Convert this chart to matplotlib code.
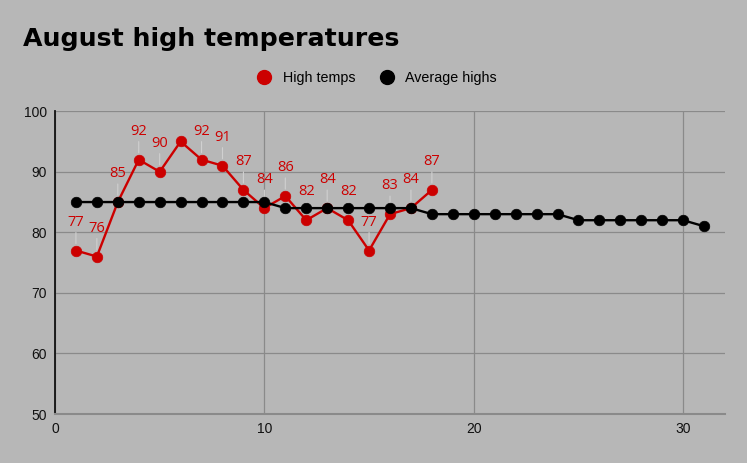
import matplotlib
matplotlib.use("Agg")
import matplotlib.pyplot as plt
from matplotlib.lines import Line2D

# data
days_high = list(range(1, 19))
high_temps = [77, 76, 85, 92, 90, 95, 92, 91, 87, 84, 86, 82, 84, 82, 77, 83, 84, 87]
days_avg = list(range(1, 32))
avg_highs = [85] * 10 + [84] * 7 + [83] * 7 + [82] * 6 + [81]
unlabeled_days = [6]

BG = "#b7b7b7"
RED = "#cc0000"
GRID = "#8a8a8a"

plt.rcParams["font.family"] = ["Liberation Sans", "DejaVu Sans"]

fig = plt.figure(figsize=(7.47, 4.63), dpi=100, facecolor=BG)
ax = fig.add_axes([0.0736, 0.1058, 0.897, 0.654])
ax.set_facecolor(BG)

# average highs sit on top of the red series, like in the original
ax.plot(days_high, high_temps, color=RED, lw=1.7, marker="o", ms=7.6,
        mew=0.5, zorder=3)
ax.plot(days_avg, avg_highs, color="black", lw=1.7, marker="o", ms=7.6,
        mew=0.5, zorder=4)

# labels and their leader lines go under the markers
for d, v in zip(days_high, high_temps):
    if d in unlabeled_days:
        continue
    ax.annotate(str(v), xy=(d, v), xytext=(0, 15), textcoords="offset points",
                ha="center", va="bottom", color=RED, fontsize=10.5,
                family="Open Sans",
                arrowprops=dict(arrowstyle="-", color="#d0d0d0", lw=0.8,
                                shrinkA=0, shrinkB=5), zorder=2)

ax.set_xlim(0, 32)
ax.set_ylim(50, 100)
ax.set_xticks([0, 10, 20, 30])
ax.set_yticks([50, 60, 70, 80, 90, 100])
ax.grid(True, color=GRID, lw=0.9)
ax.set_axisbelow(True)
ax.tick_params(length=0, labelsize=10, colors="#111111", pad=6)
for s in ["top", "right"]:
    ax.spines[s].set_visible(False)
ax.spines["left"].set_color("#111111")
ax.spines["left"].set_linewidth(1.3)
ax.spines["bottom"].set_color(GRID)
ax.spines["bottom"].set_linewidth(1.5)

fig.text(0.031, 0.915, "August high temperatures", fontsize=18.2,
         fontweight="heavy", family="DejaVu Sans", va="center", ha="left")

handles = [
    Line2D([], [], color=RED, marker="o", ls="", ms=10),
    Line2D([], [], color="black", marker="o", ls="", ms=10),
]
fig.legend(handles, ["High temps", "Average highs"], loc="center",
           bbox_to_anchor=(0.5, 0.832), ncol=2, frameon=False, fontsize=10.3,
           handletextpad=0.3, columnspacing=1.2)

fig.savefig("out.png", dpi=100, facecolor=BG)
